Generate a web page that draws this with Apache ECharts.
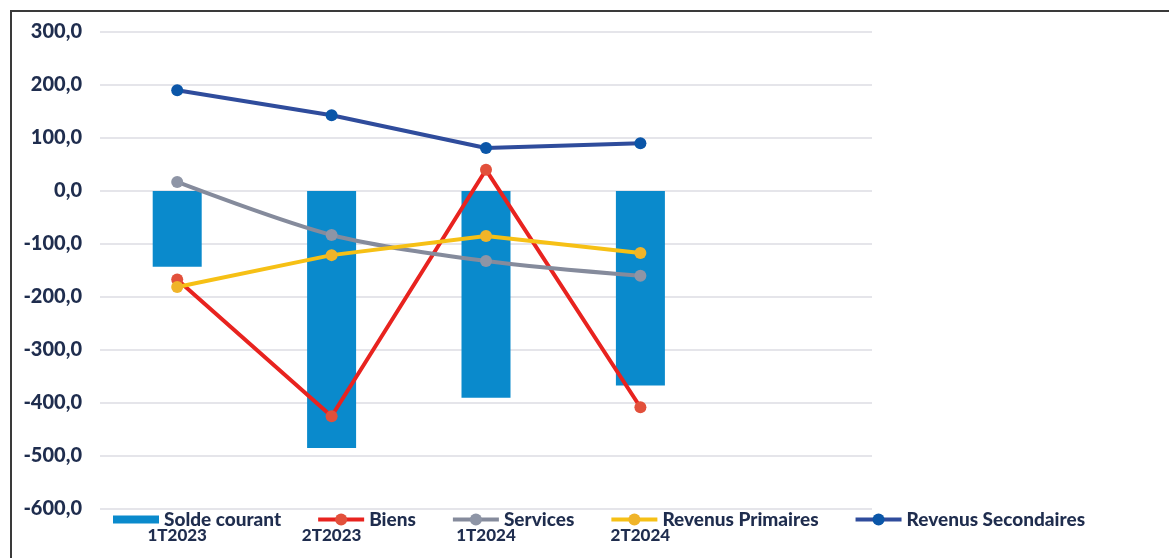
<!DOCTYPE html>
<html>
<head>
<meta charset="utf-8">
<script src="https://cdn.jsdelivr.net/npm/echarts@6/dist/echarts.min.js"></script>
<style>
  html, body { margin: 0; padding: 0; background: #fff; }
  #frame { position: absolute; left: 10px; top: 10px; width: 1159px; height: 548px;
           border-top: 2px solid #3a3a3a; border-left: 2px solid #3a3a3a; }
  #chart { position: absolute; left: 0; top: 0; width: 1169px; height: 558px; }
</style>
</head>
<body>
<div id="frame"></div>
<div id="chart"></div>
<script>
// Quarters (the last slot is left empty on the axis)
const categories = ['1T2023', '2T2023', '1T2024', '2T2024', ''];

// Balance of payments components, per quarter
const soldeCourant = [-143, -485, -390, -367];
const biens = [-167, -425, 40, -408];
const services = [17, -83, -132, -160];
const revenusPrimaires = [-181, -121, -85, -117];
const revenusSecondaires = [190, 143, 81, 90];

const seriesNames = ['Solde courant', 'Biens', 'Services', 'Revenus Primaires', 'Revenus Secondaires'];

const textColor = '#1f2d4e';
const fontFamily = 'Lato, "Open Sans", sans-serif';

const chart = echarts.init(document.getElementById('chart'));

function lineSeries(name, data, lineColor, markerColor, smooth) {
  return {
    name: name,
    type: 'line',
    data: data,
    smooth: smooth || false,
    symbol: 'circle',
    symbolSize: 12,
    lineStyle: { color: lineColor, width: 4 },
    itemStyle: { color: markerColor },
    z: 3
  };
}

chart.setOption({
  animation: false,
  backgroundColor: 'transparent',
  grid: { left: 100, right: 297, top: 32, bottom: 49, containLabel: false },
  legend: {
    left: 108,
    top: 505,
    itemWidth: 46,
    itemHeight: 15,
    itemGap: 35,
    lineStyle: { width: 4 },
    textStyle: { color: textColor, fontFamily: fontFamily, fontWeight: 900, fontSize: 19 },
    data: [
      { name: seriesNames[0], icon: 'path://M0,0h45v8h-45z' },
      seriesNames[1], seriesNames[2], seriesNames[3], seriesNames[4]
    ]
  },
  xAxis: {
    type: 'category',
    data: categories,
    axisLine: { show: false },
    axisTick: { show: false },
    axisLabel: {
      color: textColor, fontFamily: fontFamily, fontWeight: 900, fontSize: 17,
      margin: 18, interval: 0
    }
  },
  yAxis: {
    type: 'value',
    min: -600,
    max: 300,
    interval: 100,
    axisLine: { show: false },
    axisTick: { show: false },
    splitLine: { lineStyle: { color: '#dcdde3', width: 1.5 } },
    axisLabel: {
      color: textColor, fontFamily: fontFamily, fontWeight: 900, fontSize: 20,
      margin: 18,
      formatter: v => v.toFixed(1).replace('.', ',')
    }
  },
  series: [
    {
      name: seriesNames[0],
      type: 'bar',
      data: soldeCourant,
      barWidth: 49,
      itemStyle: { color: '#0a8acc' },
      z: 2
    },
    lineSeries(seriesNames[1], biens, '#e8231f', '#e2503b'),
    lineSeries(seriesNames[2], services, '#858b9c', '#8e95a6', 0.3),
    lineSeries(seriesNames[3], revenusPrimaires, '#f6c015', '#f0b429'),
    lineSeries(seriesNames[4], revenusSecondaires, '#2f4c9c', '#0b56a8')
  ]
});
</script>
</body>
</html>
